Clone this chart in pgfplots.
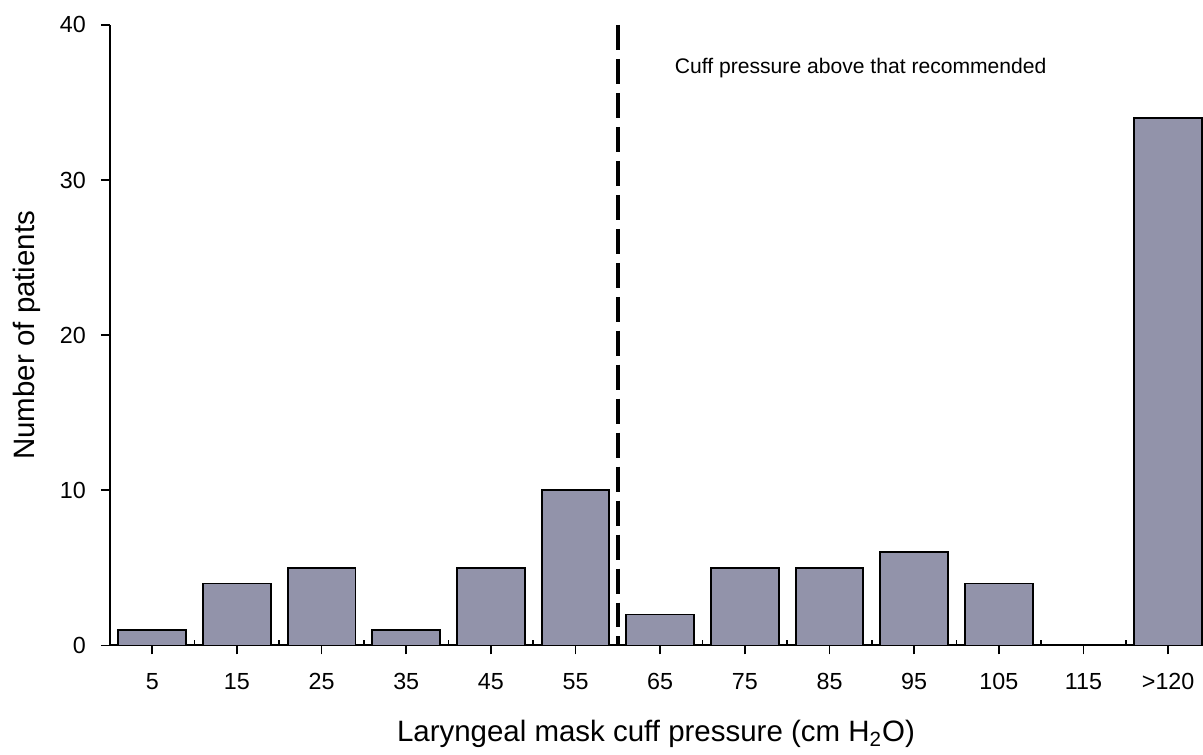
\documentclass[border=0pt]{standalone}
\usepackage{pgfplots}
\pgfplotsset{compat=1.18}
\usepackage{fontspec}
\setmainfont{Liberation Sans}
\definecolor{barcol}{RGB}{146,147,170}
\begin{document}
\begin{tikzpicture}
\begin{axis}[
  at={(0,0)}, anchor=south west,
  scale only axis, width=546.5bp, height=310.5bp,
  axis lines=left, axis line style={-, line width=1bp},
  xmin=-0.5, xmax=12.4, ymin=0, ymax=40,
  xtick={0,...,12},
  xticklabels={5,15,25,35,45,55,65,75,85,95,105,115,>120},
  ytick={0,10,20,30,40},
  tick align=outside, major tick length=4.5bp,
  tick style={black, line width=0.9bp},
  extra x ticks={0.5,1.5,...,11.5},
  extra x tick labels={},
  extra x tick style={tick align=inside, major tick length=2.8bp, grid=none},
  ticklabel style={font=\fontsize{11.7}{14}\selectfont},
  xticklabel style={yshift=-6bp},
  yticklabel style={xshift=-4bp},
  /pgf/number format/assume math mode=true,
  xlabel={Laryngeal mask cuff pressure (cm H\textsubscript{2}O)},
  ylabel={Number of patients},
  label style={font=\fontsize{14.8}{17}\selectfont},
  xlabel style={yshift=-4bp},
  ylabel style={yshift=3bp},
  clip=false,
]
\addplot[ybar, bar width=0.8, fill=barcol, draw=black, line width=0.9bp]
  coordinates {(0,1) (1,4) (2,5) (3,1) (4,5) (5,10) (6,2) (7,5) (8,5) (9,6) (10,4) (12,34)};
\addplot[black, line width=1.8bp, dash pattern=on 12.5bp off 4.5bp]
  coordinates {(5.5,40) (5.5,0)};
\node[anchor=west, inner sep=0pt, font=\fontsize{10.6}{12}\selectfont] at (axis cs:6.17,37.2) {Cuff pressure above that recommended};
\end{axis}
\path[use as bounding box] (-55bp,-51bp) rectangle (546.5bp,323bp);
\end{tikzpicture}
\end{document}
